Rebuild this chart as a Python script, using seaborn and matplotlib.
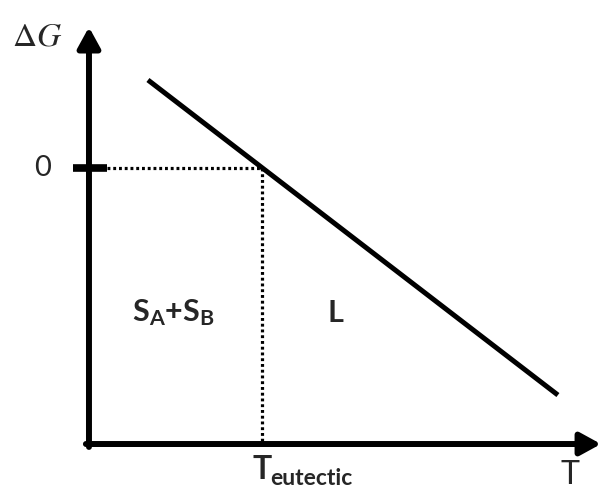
import matplotlib
matplotlib.use("Agg")
import matplotlib.pyplot as plt
import seaborn as sns
import pandas as pd

# Dados do diagrama (unidades arbitrárias)
temperatura = [0.341, 2.711]
delta_g = [0.509, -1.312]
t_eutetico = 1.0
g_zero = 0.0

sns.set_theme(style="white")
plt.rcParams["mathtext.fontset"] = "custom"
plt.rcParams["mathtext.rm"] = "Lato"
plt.rcParams["mathtext.bf"] = "Lato:bold"
plt.rcParams["mathtext.it"] = "Lato:italic"

df = pd.DataFrame({"T": temperatura, "dG": delta_g})

fig = plt.figure(figsize=(6.02, 4.91), dpi=100)
ax = fig.add_axes([0.1478, 0.0957, 0.8505, 0.8534])

sns.lineplot(data=df, x="T", y="dG", color="black", linewidth=3.6, ax=ax,
             solid_capstyle="butt")

# linhas pontilhadas
ax.plot([0.104, t_eutetico], [g_zero, g_zero], color="black", linestyle=(0, (0.9, 0.9)), linewidth=2.3)
ax.plot([t_eutetico, t_eutetico], [g_zero, -1.595], color="black", linestyle=(0, (0.9, 0.9)), linewidth=2.3)

# marca do zero
ax.plot([-0.093, 0.104], [g_zero, g_zero], color="black", linewidth=5.5,
        solid_capstyle="butt", clip_on=False)

ax.set_xlim(0, 2.96)
ax.set_ylim(-1.595, 0.827)
ax.set_xlabel("")
ax.set_ylabel("")
ax.set_xticks([])
ax.set_yticks([])
sns.despine(ax=ax, left=True, bottom=True, top=True, right=True)

# eixos com setas
seta = dict(arrowstyle="-|>,head_length=0.62,head_width=0.34", color="black",
            lw=4.3, mutation_scale=20, shrinkA=0, shrinkB=0)
ax.annotate("", xy=(1.0, 0.0), xytext=(-0.006, 0.0), xycoords="axes fraction",
            arrowprops=seta, annotation_clip=False)
ax.annotate("", xy=(0.0, 0.995), xytext=(0.0, -0.007), xycoords="axes fraction",
            arrowprops=seta, annotation_clip=False)

# textos
ax.text(-0.301, 0.762, r"$\Delta G$", fontsize=24, ha="center", va="center",
        math_fontfamily="stix", clip_on=False)
ax.text(-0.266, g_zero, "0", fontsize=21, family="Lato", ha="center", va="center", clip_on=False)
ax.text(0.486, -0.838, r"$\mathbf{S_A{+}S_B}$", fontsize=22, ha="center", va="center")
ax.text(1.422, -0.838, "L", fontsize=22, family="Lato", fontweight="bold", ha="center", va="center")
ax.text(0.945, -1.795, "T", fontsize=23, family="Lato", fontweight="bold",
        ha="left", va="baseline", clip_on=False)
ax.text(1.046, -1.832, "eutectic", fontsize=16.5, family="Lato", fontweight="bold",
        ha="left", va="baseline", clip_on=False)
ax.text(2.78, -1.775, "T", fontsize=23, family="Lato", ha="center", va="center", clip_on=False)

fig.savefig("out.png", dpi=100)
